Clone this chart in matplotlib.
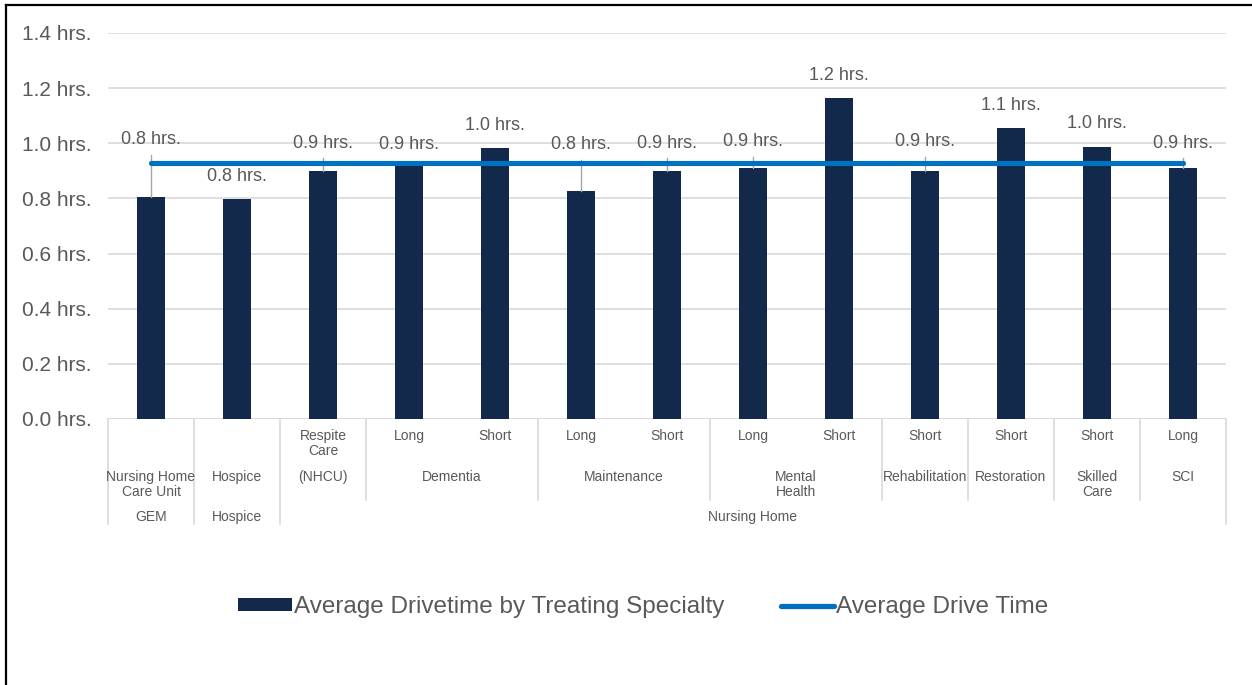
import matplotlib
matplotlib.use("Agg")
import matplotlib.pyplot as plt
from matplotlib.patches import Patch
from matplotlib.lines import Line2D
from matplotlib.transforms import blended_transform_factory

plt.rcParams['font.family'] = ['Liberation Sans', 'DejaVu Sans']

# ---- data ----
level0 = ["", "", "Respite\nCare", "Long", "Short", "Long", "Short",
          "Long", "Short", "Short", "Short", "Short", "Long"]
level1 = ["Nursing Home\nCare Unit", "Hospice", "(NHCU)", "Dementia", "Dementia",
          "Maintenance", "Maintenance", "Mental\nHealth", "Mental\nHealth",
          "Rehabilitation", "Restoration", "Skilled\nCare", "SCI"]
level2 = ["GEM", "Hospice"] + ["Nursing Home"] * 11
drive_hours = [0.805, 0.798, 0.90, 0.918, 0.983, 0.827, 0.90,
               0.91, 1.164, 0.90, 1.055, 0.987, 0.91]
average_hours = 0.928
y_ticks = [0.0, 0.2, 0.4, 0.6, 0.8, 1.0, 1.2, 1.4]

# label heights for labels lifted clear of the average line (None = above bar)
label_y = [1.012, None, 1.001, 0.994, None, 0.994, 1.001,
           1.005, None, 1.005, None, None, 1.001]

BAR = "#13294B"
LINE = "#0070C0"
GRID = "#D9D9D9"
TXT = "#595959"

W, H = 1252, 685
fig = plt.figure(figsize=(W / 100, H / 100), dpi=100)
ax = fig.add_axes([108 / W, 1 - 419 / H, (1226 - 108) / W, (419 - 33) / H])

n = len(drive_hours)
xs = list(range(n))
ax.bar(xs, drive_hours, width=0.33, color=BAR, zorder=2)
ax.plot([xs[0], xs[-1]], [average_hours, average_hours], color=LINE, lw=3.7,
        solid_capstyle="round", zorder=3)

ax.set_xlim(-0.5, n - 0.5)
ax.set_ylim(0, 1.4)
ax.set_yticks(y_ticks)
ax.set_yticklabels([f"{t:.1f} hrs." for t in y_ticks], color=TXT, fontsize=15)
ax.tick_params(axis="y", length=0, pad=12)
ax.set_xticks([])
ax.grid(axis="y", color=GRID, lw=1.2, zorder=0)
for s in ax.spines.values():
    s.set_visible(False)
ax.axhline(0, color=GRID, lw=1.2, zorder=1)

# value labels with leader lines
for i, v in enumerate(drive_hours):
    txt = f"{v:.1f} hrs."
    ly = label_y[i]
    if ly is None:
        ax.annotate(txt, xy=(i, v), xytext=(0, 16.5), textcoords="offset points",
                    ha="center", va="center", fontsize=13, color=TXT, zorder=4)
    else:
        ax.text(i, ly, txt, ha="center", va="center", fontsize=13, color=TXT, zorder=4)
        if ly - v > 0.087:
            ax.plot([i, i], [ly - 0.054, v], color="#A6A6A6", lw=1, zorder=2.5)

# multi-level category axis
tr = blended_transform_factory(ax.transData, fig.transFigure)

def fy(py):
    return 1 - py / H

def boundary_depth(k):
    # k: index of category to the right of the boundary
    if k == 0 or k == n:
        return 524
    if level2[k] != level2[k - 1]:
        return 524
    if level1[k] != level1[k - 1]:
        return 500
    return None

for k in range(n + 1):
    d = boundary_depth(k)
    if d is not None:
        fig.add_artist(Line2D([k - 0.5, k - 0.5], [fy(419), fy(d)], transform=tr,
                              color=GRID, lw=1.2))

cat_kw = dict(ha="center", va="top", fontsize=10, color=TXT, linespacing=1.1)
for i, lab in enumerate(level0):
    if lab:
        fig.text(i, fy(429), lab, transform=tr, **cat_kw)

def runs(labels, parents=None):
    out = []
    start = 0
    for k in range(1, len(labels) + 1):
        end_run = k == len(labels) or labels[k] != labels[start] or (
            parents is not None and parents[k] != parents[start])
        if end_run:
            out.append((start, k - 1, labels[start]))
            start = k
    return out

for a, b, lab in runs(level1, level2):
    fig.text((a + b) / 2, fy(470), lab, transform=tr, **cat_kw)
for a, b, lab in runs(level2):
    fig.text((a + b) / 2, fy(510), lab, transform=tr, **cat_kw)

# legend
handles = [Patch(facecolor=BAR, edgecolor="none"),
           Line2D([], [], color=LINE, lw=3.8, solid_capstyle="round")]
fig.legend(handles, ["Average Drivetime by Treating Specialty", "Average Drive Time"],
           loc="center", bbox_to_anchor=(0.514, fy(607)), ncol=2, frameon=False,
           fontsize=17.5, labelcolor=TXT, handlelength=2.2, handleheight=0.42,
           handletextpad=0.1, columnspacing=2.3)

# outer frame (left and top edges)
fig.add_artist(Line2D([6 / W, 6 / W], [0, fy(5)], color="black", lw=1.6))
fig.add_artist(Line2D([6 / W, 1], [fy(5), fy(5)], color="black", lw=1.6))

fig.savefig("out.png", dpi=100, facecolor="white")
